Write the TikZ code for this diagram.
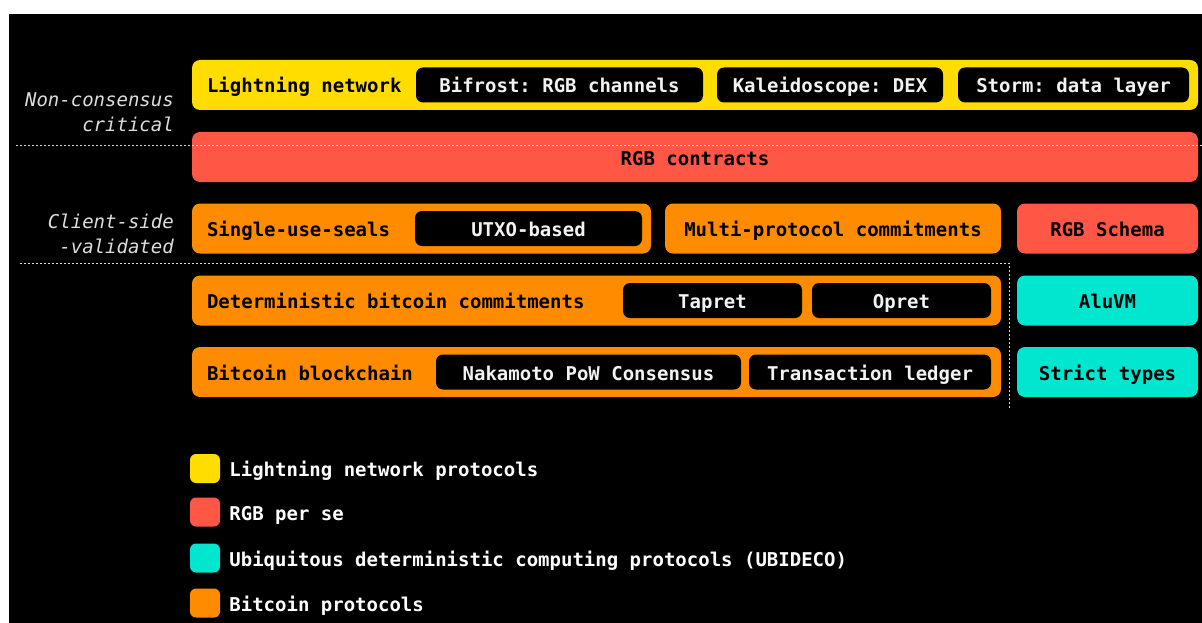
\documentclass[tikz,border=0pt]{standalone}
\usepackage{fontspec}
\usepackage{tikz}
\usetikzlibrary{positioning}
\newfontfamily\plexmono[WordSpace={1,0,0}, PunctuationSpace=WordSpace]{DejaVu Sans Mono}
\newcommand{\boxfont}{\plexmono\bfseries\fontsize{19}{23}\selectfont\frenchspacing}
\newcommand{\tagfont}{\plexmono\itshape\fontsize{19}{25}\selectfont\frenchspacing}
\newcommand{\leftlabel}[2]{\makebox[#1][l]{#2}}
\definecolor{lnyellow}{HTML}{FFDD00}
\definecolor{rgbred}{HTML}{FF5745}
\definecolor{ubiteal}{HTML}{00E6CF}
\definecolor{btcorange}{HTML}{FF8C00}
\definecolor{chiptext}{HTML}{F2F2F2}
\definecolor{tagtext}{HTML}{DDDDDD}
\tikzset{
  band/.style={rectangle, rounded corners=8pt, fill=#1, text=black, font=\boxfont,
               minimum height=50pt, inner xsep=15pt, inner ysep=0pt, text height=16pt, text depth=0pt},
  chip/.style={rectangle, rounded corners=7pt, fill=black, text=chiptext, font=\boxfont,
               minimum height=35pt, inner sep=0pt, text height=16pt, text depth=0pt},
  tag/.style={font=\tagfont, text=tagtext, align=right, inner sep=0pt, anchor=east},
  sepline/.style={white!85!black, line width=1pt, dash pattern=on 2pt off 2pt},
  swatch/.style={rectangle, rounded corners=6pt, minimum width=30pt, minimum height=29pt, inner sep=0pt},
  legend/.style={font=\boxfont, text=white, inner sep=0pt, text height=16pt, text depth=0pt},
}
\begin{document}
\begin{tikzpicture}[x=1pt, y=-1pt, node distance=9pt]

% Canvas
\useasboundingbox (0,0) rectangle (1202,623);
\fill[white] (0,0) rectangle (1202,623);
\fill[black] (9,14) rectangle (1202,623);

% Lightning layer
\node[band=lnyellow, minimum width=1006pt] (ln) at (695,85) {\leftlabel{976pt}{Lightning network}};
\node[chip, minimum width=287pt] (bifrost) at (559.5,85) {Bifrost: RGB channels};
\node[chip, minimum width=226pt] (kaleido) at (830,85) {Kaleidoscope: DEX};
\node[chip, minimum width=231pt] (storm) at (1073.5,85) {Storm: data layer};

% RGB contracts
\node[band=rgbred, minimum width=1006pt] (contracts) at (695,157) {RGB contracts};

% Client-side validation
\node[band=btcorange, minimum width=459pt] (seals) at (421.5,228.5) {\leftlabel{429pt}{Single-use-seals}};
\node[chip, minimum width=227pt] (utxo) at (528.5,228.5) {UTXO-based};
\node[band=btcorange, minimum width=336pt] (mpc) at (833,228.5) {Multi-protocol commitments};
\node[band=rgbred, minimum width=181pt] (schema) at (1107.5,228.5) {RGB Schema};

% Bitcoin layers
\node[band=btcorange, minimum width=809pt] (dbc) at (596.5,300.5) {\leftlabel{779pt}{Deterministic bitcoin commitments}};
\node[chip, minimum width=179pt] (tapret) at (712.5,300.5) {Tapret};
\node[chip, minimum width=179pt] (opret) at (901.5,300.5) {Opret};
\node[band=ubiteal, minimum width=181pt] (aluvm) at (1107.5,300.5) {AluVM};

\node[band=btcorange, minimum width=809pt] (chain) at (596.5,372) {\leftlabel{779pt}{Bitcoin blockchain}};
\node[chip, minimum width=305pt] (pow) at (588.5,372) {Nakamoto PoW Consensus};
\node[chip, minimum width=242pt] (ledger) at (870,372) {Transaction ledger};
\node[band=ubiteal, minimum width=181pt] (strict) at (1107.5,372) {Strict types};

% Side tags
\node[tag] (noncons) at (174,112.5) {Non-consensus\\critical};
\node[tag] (csv) at (174,233.5) {Client-side\\-validated};

% Separators
\coordinate (sepa) at (16,146);
\coordinate (sepb) at (1202,146);
\coordinate (sepc) at (20,263);
\coordinate (sepd) at (1009,263);
\coordinate (sepe) at (1009,408);
\draw[sepline] (sepa) -- (sepb);
\draw[sepline] (sepc) -- (sepd) -- (sepe);

% Legend
\node[swatch, fill=lnyellow] (keyln) at (205,468.5) {};
\node[swatch, fill=rgbred] (keyrgb) at (205,512) {};
\node[swatch, fill=ubiteal] (keyubi) at (205,558) {};
\node[swatch, fill=btcorange] (keybtc) at (205,603) {};
\node[legend, right=of keyln] (keylntext) {Lightning network protocols};
\node[legend, right=of keyrgb] (keyrgbtext) {RGB per se};
\node[legend, right=of keyubi] (keyubitext) {Ubiquitous deterministic computing protocols (UBIDECO)};
\node[legend, right=of keybtc] (keybtctext) {Bitcoin protocols};

\end{tikzpicture}
\end{document}
